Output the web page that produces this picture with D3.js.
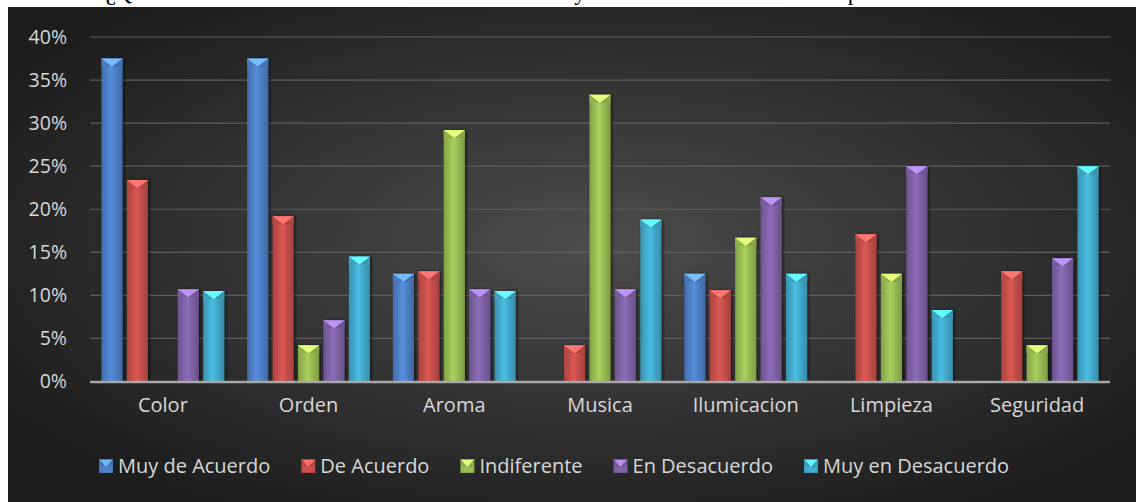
<!DOCTYPE html>
<html><head><meta charset="utf-8">
<script src="https://cdn.jsdelivr.net/npm/d3@7"></script>
<style>html,body{margin:0;padding:0;background:#fff;overflow:hidden}</style>
</head><body>
<svg id="chart" width="1138" height="502"></svg>
<script>
const categories = ["Color","Orden","Aroma","Musica","Ilumicacion","Limpieza","Seguridad"];
const seriesNames = ["Muy de Acuerdo","De Acuerdo","Indiferente","En Desacuerdo","Muy en Desacuerdo"];
const muyDeAcuerdo   = [37.5, 37.5, 12.5, 0,    12.5, 0,    0];
const deAcuerdo      = [23.4, 19.2, 12.8, 4.2,  10.6, 17.1, 12.8];
const indiferente    = [0,    4.2,  29.2, 33.3, 16.7, 12.5, 4.2];
const enDesacuerdo   = [10.7, 7.1,  10.7, 10.7, 21.4, 25.0, 14.3];
const muyEnDesacuerdo= [10.5, 14.5, 10.5, 18.8, 12.5, 8.3,  25.0];
const yTicks = [0,5,10,15,20,25,30,35,40];
const titleText = "Gráfico 3: ¿Qué tan de acuerdo de esta usted con el ambiente y decoro del Mercado Municipal Plaza";

const seriesValues = [muyDeAcuerdo, deAcuerdo, indiferente, enDesacuerdo, muyEnDesacuerdo];
const colors = ["#4f81c9","#c9504d","#9bbf55","#8064a8","#44add0"];

const W = 1138, H = 502;
const svg = d3.select("#chart");
const defs = svg.append("defs");

// title strip (cropped at the top, as in the reference)
svg.append("rect").attr("x",0).attr("y",0).attr("width",W).attr("height",H).attr("fill","#fff");
svg.append("text").attr("x",6).attr("y",0)
  .attr("font-family","Liberation Serif, serif").attr("font-size",23)
  .attr("fill","#000").text(titleText);

// background
const bg = defs.append("radialGradient").attr("id","bg").attr("cx","52%").attr("cy","48%").attr("r","62%");
bg.append("stop").attr("offset","0%").attr("stop-color","#4c4c4c");
bg.append("stop").attr("offset","100%").attr("stop-color","#1d1d1d");
svg.append("rect").attr("x",8).attr("y",7).attr("width",W-10).attr("height",H-7).attr("fill","url(#bg)");

const x0 = d3.scaleBand().domain(categories).range([90,1110]).paddingInner(0).paddingOuter(0);
const x1 = d3.scaleBand().domain(seriesNames).range([0,x0.bandwidth()]).paddingInner(0.17).paddingOuter(0.45);
const y = d3.scaleLinear().domain([0,40]).range([381.5,37]);

const font = "'Open Sans', 'Noto Sans', sans-serif";
const txtColor = "#d8d8d8";

// gridlines
svg.append("g").selectAll("line").data(yTicks.filter(t=>t>0)).join("line")
  .attr("x1",90).attr("x2",1110).attr("y1",d=>y(d)).attr("y2",d=>y(d))
  .attr("stroke","#5e5e5e").attr("stroke-width",1.2);

// y axis labels
const yAxis = d3.axisLeft(y).tickValues(yTicks).tickFormat(d=>d+"%").tickSize(0).tickPadding(0);
const yg = svg.append("g").attr("transform","translate(67,0)").call(yAxis);
yg.select(".domain").remove();
yg.selectAll("text").attr("font-family",font).attr("font-size",19.5).attr("fill",txtColor);

// gradients per series
colors.forEach((c,i)=>{
  const g = defs.append("linearGradient").attr("id","bar"+i).attr("x1","0%").attr("x2","100%");
  const base = d3.color(c);
  g.append("stop").attr("offset","0%").attr("stop-color",base.darker(0.5));
  g.append("stop").attr("offset","45%").attr("stop-color",base.brighter(0.25));
  g.append("stop").attr("offset","100%").attr("stop-color",base.darker(0.6));
});
const shadow = defs.append("filter").attr("id","sh").attr("x","-30%").attr("y","-10%").attr("width","160%").attr("height","120%");
shadow.append("feDropShadow").attr("dx",1.5).attr("dy",0).attr("stdDeviation",1.5).attr("flood-color","#000").attr("flood-opacity",0.6);

const bars = [];
categories.forEach((cat,ci)=>{
  seriesNames.forEach((s,si)=>{
    bars.push({cat, s, si, v: seriesValues[si][ci]});
  });
});

const bg2 = svg.append("g");
bars.filter(d=>d.v>0).forEach(d=>{
  const bx = x0(d.cat)+x1(d.s), bw = x1.bandwidth();
  const top = y(d.v), bot = y(0);
  const g = bg2.append("g");
  g.append("rect").attr("x",bx).attr("y",top).attr("width",bw).attr("height",bot-top)
    .attr("fill","url(#bar"+d.si+")").attr("filter","url(#sh)");
  const th = Math.min(8, bot-top);
  const base = d3.color(colors[d.si]);
  g.append("path").attr("d",`M${bx},${top}L${bx+bw/2},${top+th}L${bx},${top+th}Z`).attr("fill",base.darker(0.2));
  g.append("path").attr("d",`M${bx+bw},${top}L${bx+bw/2},${top+th}L${bx+bw},${top+th}Z`).attr("fill",base.darker(0.4));
  g.append("path").attr("d",`M${bx},${top}L${bx+bw},${top}L${bx+bw/2},${top+th}Z`).attr("fill",base.brighter(1.1));
});

// zero axis line
svg.append("line").attr("x1",90).attr("x2",1110).attr("y1",y(0)+0.5).attr("y2",y(0)+0.5)
  .attr("stroke","#a8a8a8").attr("stroke-width",2.5);

// category labels
const xAxis = d3.axisBottom(x0).tickSize(0).tickPadding(0);
const xg = svg.append("g").attr("transform","translate(0,400)").call(xAxis);
xg.select(".domain").remove();
xg.selectAll("text").attr("font-family",font).attr("font-size",20).attr("fill",txtColor).attr("dy","0.6em");

// legend
const lg = svg.append("g");
let lx = 99;
seriesNames.forEach((s,i)=>{
  const base = d3.color(colors[i]);
  const item = lg.append("g").attr("transform",`translate(${lx},459)`);
  item.append("rect").attr("width",14).attr("height",14).attr("fill",base.darker(0.3));
  item.append("path").attr("d","M1,1L13,1L7,8Z").attr("fill",base.brighter(1));
  item.append("rect").attr("x",1).attr("y",8).attr("width",12).attr("height",5).attr("fill",base);
  const t = item.append("text").attr("x",19).attr("y",7).attr("dy","0.35em")
    .attr("font-family",font).attr("font-size",20).attr("fill",txtColor).text(s);
  const w = t.node().getComputedTextLength();
  lx += 19 + w + 31;
});
</script>
</body></html>
